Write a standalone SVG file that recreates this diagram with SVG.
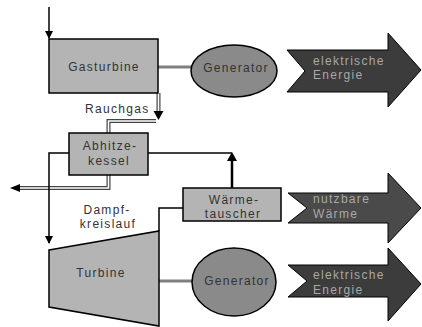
<svg xmlns="http://www.w3.org/2000/svg" width="422" height="327" viewBox="0 0 422 327">
<defs>
<style>
.box{fill:#b4b4b4;stroke:#000;stroke-width:1.5}
.gen{fill:#8a8a8a;stroke:#000;stroke-width:1.5}
.arr{stroke:#000;stroke-width:1}
.t{font-family:"Liberation Sans",Arial,sans-serif;font-size:12px;letter-spacing:1.3px;fill:#333}
.tw{font-family:"Liberation Sans",Arial,sans-serif;font-size:12px;letter-spacing:1.3px;fill:#a8a8a8}
.ln{fill:none;stroke:#000;stroke-width:1.5}
.shaft{fill:none;stroke:#808080;stroke-width:3}
.dbo{fill:none;stroke:#444;stroke-width:4}
.dbi{fill:none;stroke:#fff;stroke-width:1.6}
</style>
<marker id="ah" markerWidth="8" markerHeight="8" refX="7" refY="4" orient="auto" markerUnits="userSpaceOnUse">
<path d="M0,0 L8,4 L0,8 Z" fill="#000"/>
</marker>
</defs>
<rect width="422" height="327" fill="#fff"/>

<g id="connectors">
<line class="ln" x1="49" y1="7" x2="49" y2="38" marker-end="url(#ah)"/>
<line class="shaft" x1="158" y1="67" x2="191" y2="67"/>
<line class="shaft" x1="159" y1="281" x2="193" y2="281"/>
<path class="dbo" d="M158.5,93 V112"/>
<path class="dbi" d="M158.5,93 V112"/>
<path d="M153.5,111 L163.5,111 L158.5,120 Z" fill="#000"/>
<path class="dbo" d="M156,121 H108.5 V133"/>
<path class="dbi" d="M156,121 H108.5 V133"/>
<path class="dbo" d="M108.5,175 V188 H20"/>
<path class="dbi" d="M108.5,175 V188 H20"/>
<path d="M20,184 L20,192 L10,188 Z" fill="#000"/>
<path class="ln" d="M69,153 H49 V243" marker-end="url(#ah)"/>
<path class="ln" d="M148,153 H232"/>
<path d="M232,188 V159" fill="none" stroke="#000" stroke-width="2.5"/>
<path d="M227,161 L237,161 L232,152 Z" fill="#000"/>
<path class="ln" d="M183,208 H159 V231"/>
</g>

<g id="gasturbine">
<rect class="box" x="49" y="39" width="109" height="54"/>
<text class="t" x="104" y="71" text-anchor="middle">Gasturbine</text>
</g>

<g id="generator1">
<ellipse class="gen" cx="234" cy="71" rx="43" ry="26"/>
<text class="t" x="236" y="72" text-anchor="middle">Generator</text>
</g>

<g id="energie1">
<path class="arr" d="M287,50 H388 V33 L421,70 L388,107 V92 H287 L305,71 Z" fill="#3c3c3c"/>
<text class="tw" x="313" y="65">elektrische</text>
<text class="tw" x="313" y="79">Energie</text>
</g>

<g id="rauchgas-label">
<text class="t" x="85" y="113">Rauchgas</text>
</g>

<g id="abhitzekessel">
<rect class="box" x="69" y="133" width="79" height="42"/>
<text class="t" x="110" y="150" text-anchor="middle">Abhitze-</text>
<text class="t" x="109" y="165" text-anchor="middle">kessel</text>
</g>

<g id="dampfkreislauf-label">
<text class="t" x="107" y="214" text-anchor="middle">Dampf-</text>
<text class="t" x="108" y="228" text-anchor="middle">kreislauf</text>
</g>

<g id="waermetauscher">
<rect class="box" x="183" y="188" width="98" height="33"/>
<text class="t" x="234" y="204" text-anchor="middle">Wärme-</text>
<text class="t" x="233" y="218" text-anchor="middle">tauscher</text>
</g>

<g id="waerme">
<path class="arr" d="M288,193 H388 V173 L421,208 L388,243 V223 H288 L307,208 Z" fill="#4a4a4a"/>
<text class="tw" x="313" y="203">nutzbare</text>
<text class="tw" x="313" y="218">Wärme</text>
</g>

<g id="turbine">
<path class="box" d="M49,250 L159,231 L159,326 L49,307 Z"/>
<text class="t" x="101" y="277" text-anchor="middle">Turbine</text>
</g>

<g id="generator2">
<ellipse class="gen" cx="234" cy="282" rx="42" ry="34"/>
<text class="t" x="237" y="285" text-anchor="middle">Generator</text>
</g>

<g id="energie2">
<path class="arr" d="M288,265 H388 V248 L421,284 L388,321 V297 H288 L307,281 Z" fill="#3c3c3c"/>
<text class="tw" x="313" y="279">elektrische</text>
<text class="tw" x="313" y="294">Energie</text>
</g>
</svg>
